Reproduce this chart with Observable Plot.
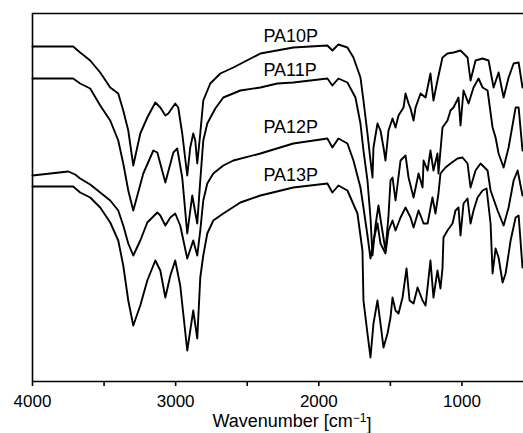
<!DOCTYPE html>
<html>
<head>
<meta charset="utf-8">
<script src="https://cdn.jsdelivr.net/npm/d3@7"></script>
<script src="https://cdn.jsdelivr.net/npm/@observablehq/plot@0.6"></script>
<style>
  html, body { margin: 0; padding: 0; background: #fff; }
  #chart { width: 523px; height: 433px; }
</style>
</head>
<body>
<div id="chart"></div>
<script>
// Wavenumber (cm^-1) and relative transmittance (arbitrary units, offset per series)
const seriesNames = ["PA10P", "PA11P", "PA12P", "PA13P"];

const PA10P = [[4000,335],[3716,335],[3667,329],[3597,321],[3527,309],[3457,294],[3401,288],[3366,271],[3331,251],[3296,216],[3247,248],[3198,264],[3142,279],[3107,274],[3072,266],[3051,268],[3003,278],[2982,274],[2954,248],[2919,206],[2898,234],[2877,248],[2863,241],[2849,218],[2828,248],[2807,281],[2758,298],[2688,308],[2597,314],[2408,328],[2178,334],[1940,336],[1905,331],[1863,337],[1800,334],[1758,324],[1709,304],[1688,281],[1660,248],[1639,221],[1625,204],[1618,234],[1590,258],[1569,251],[1548,234],[1534,221],[1513,251],[1485,263],[1464,254],[1443,266],[1408,274],[1394,288],[1373,278],[1359,273],[1338,261],[1324,274],[1289,288],[1254,284],[1220,308],[1199,281],[1171,301],[1136,324],[1101,328],[1059,329],[1010,331],[961,324],[940,301],[905,321],[856,323],[814,321],[779,294],[744,309],[709,284],[674,304],[639,318],[604,319],[577,294]];

const PA11P = [[4000,303],[3716,303],[3667,298],[3597,293],[3527,276],[3457,261],[3401,241],[3366,218],[3331,191],[3296,171],[3226,208],[3156,231],[3128,229],[3072,199],[3016,229],[2989,233],[2954,204],[2919,148],[2884,186],[2849,158],[2828,201],[2807,241],[2779,258],[2723,273],[2667,284],[2548,291],[2408,294],[2289,298],[2178,299],[1940,303],[1905,296],[1863,303],[1800,299],[1744,284],[1709,258],[1688,231],[1660,201],[1639,164],[1625,126],[1604,156],[1583,176],[1562,156],[1534,131],[1513,166],[1499,201],[1485,204],[1464,181],[1429,221],[1394,226],[1373,204],[1338,184],[1303,208],[1275,194],[1268,221],[1240,211],[1220,231],[1199,211],[1171,228],[1164,208],[1136,254],[1101,261],[1080,271],[1059,274],[1024,284],[1010,256],[989,291],[954,278],[919,294],[884,303],[856,294],[821,291],[786,254],[765,244],[744,228],[709,214],[674,234],[625,274],[604,274],[577,231]];

const PA12P = [[4000,206],[3876,208],[3750,210],[3702,207],[3667,203],[3597,197],[3527,189],[3457,181],[3401,171],[3366,156],[3331,138],[3296,126],[3247,141],[3198,159],[3128,169],[3107,166],[3072,156],[3037,164],[3003,168],[2968,156],[2919,123],[2877,141],[2849,126],[2828,151],[2807,181],[2779,198],[2737,208],[2667,216],[2597,221],[2408,228],[2178,238],[1940,243],[1905,234],[1863,243],[1800,238],[1758,221],[1709,194],[1688,174],[1660,146],[1639,123],[1618,141],[1590,158],[1569,138],[1534,128],[1513,151],[1485,161],[1464,151],[1429,164],[1394,174],[1359,164],[1338,154],[1303,171],[1268,158],[1240,158],[1206,184],[1185,168],[1164,188],[1150,208],[1115,214],[1080,218],[1031,223],[996,224],[961,218],[940,194],[905,211],[870,218],[821,211],[800,191],[751,171],[709,156],[674,174],[639,201],[611,211],[577,186]];

const PA13P = [[4000,195],[3716,195],[3667,189],[3597,184],[3527,174],[3457,159],[3401,141],[3366,116],[3331,81],[3296,56],[3247,76],[3198,101],[3142,121],[3107,111],[3072,84],[3037,106],[3003,121],[2968,96],[2919,31],[2877,71],[2849,43],[2828,104],[2807,126],[2779,148],[2737,161],[2667,168],[2548,179],[2408,186],[2178,194],[1940,198],[1905,189],[1863,196],[1800,191],[1730,168],[1695,131],[1688,81],[1660,48],[1639,24],[1618,58],[1590,81],[1569,58],[1548,34],[1520,48],[1499,64],[1485,84],[1464,71],[1443,68],[1415,84],[1387,113],[1366,81],[1338,78],[1310,94],[1275,81],[1254,76],[1220,121],[1199,84],[1171,111],[1150,93],[1136,113],[1129,144],[1101,151],[1066,158],[1045,171],[1024,174],[1010,146],[989,178],[961,183],[940,158],[919,171],[891,184],[856,191],[828,193],[800,158],[786,108],[765,133],[744,124],[716,99],[695,108],[660,141],[625,164],[604,166],[577,114]];

// label anchor positions (wavenumber, intensity)
const labelX = [2387, 2387, 2387, 2387];
const labelY = [345, 311, 254, 206];

const majorTicks = [4000, 3000, 2000, 1000];
const minorTicks = [3500, 2500, 1500];
const xDomain = [4000, 570];
const yDomain = [0, 368];

const allSeries = [PA10P, PA11P, PA12P, PA13P];
const rows = allSeries.flatMap((s, i) => s.map(([wn, t]) => ({series: seriesNames[i], wn, t})));
const labels = seriesNames.map((name, i) => ({name, wn: labelX[i], t: labelY[i]}));

const svg = Plot.plot({
  width: 523,
  height: 433,
  marginLeft: 32,
  marginRight: 0,
  marginTop: 13,
  marginBottom: 52,
  style: {fontFamily: "'Liberation Sans', Arial, Helvetica, sans-serif", fontSize: "17px", background: "#fff", color: "#000"},
  x: {domain: xDomain, axis: null},
  y: {domain: yDomain, axis: null},
  marks: [
    Plot.axisX({ticks: majorTicks, tickSize: 5, tickPadding: 8, tickFormat: d3.format("d"), label: null, strokeWidth: 1.6, fontSize: 17}),
    Plot.axisX({ticks: minorTicks, tickSize: 5, tickFormat: () => "", label: null, strokeWidth: 1.6}),
    Plot.ruleY([yDomain[0]], {stroke: "#000", strokeWidth: 1.6}),
    Plot.ruleY([yDomain[1]], {stroke: "#000", strokeWidth: 1.6}),
    Plot.ruleX([xDomain[0]], {stroke: "#000", strokeWidth: 1.6}),
    Plot.line(rows, {x: "wn", y: "t", z: "series", stroke: "#000", strokeWidth: 1.9, strokeLinejoin: "round"}),
    Plot.text(labels, {x: "wn", y: "t", text: "name", textAnchor: "start", lineAnchor: "middle", fontSize: 18, fill: "#000"})
  ]
});

// axis title with superscript
const t = d3.select(svg).append("text")
  .attr("x", 292).attr("y", 427)
  .attr("text-anchor", "middle")
  .attr("fill", "#000")
  .style("font-size", "18px");
t.append("tspan").text("Wavenumber [cm");
t.append("tspan").attr("dy", "-0.45em").style("font-size", "12px").text("\u22121");
t.append("tspan").attr("dy", "0.45em").text("]");

document.getElementById("chart").appendChild(svg);
</script>
</body>
</html>
